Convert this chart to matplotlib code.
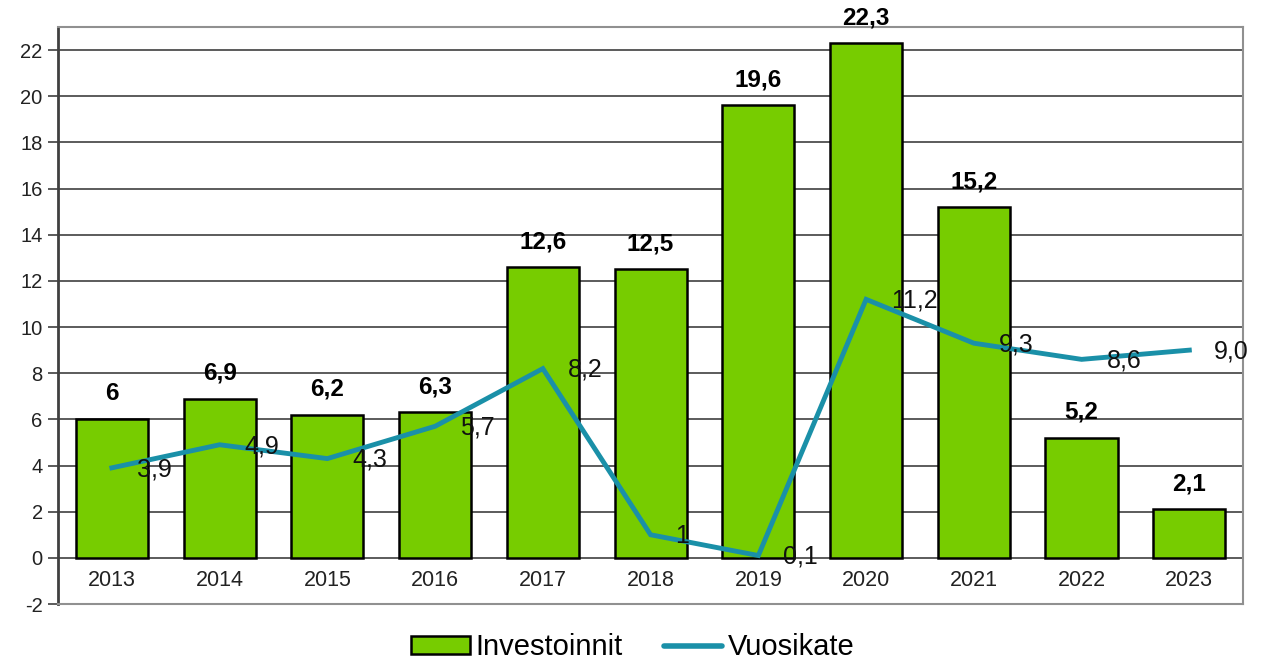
import matplotlib
matplotlib.use("Agg")
from matplotlib import pyplot as plt
from matplotlib.patches import Patch
from matplotlib.lines import Line2D

plt.rcParams['font.family'] = ['Liberation Sans', 'DejaVu Sans']
plt.rcParams['axes.unicode_minus'] = False

years = ['2013', '2014', '2015', '2016', '2017', '2018', '2019', '2020', '2021', '2022', '2023']
investoinnit = [6, 6.9, 6.2, 6.3, 12.6, 12.5, 19.6, 22.3, 15.2, 5.2, 2.1]
investoinnit_labels = ['6', '6,9', '6,2', '6,3', '12,6', '12,5', '19,6', '22,3', '15,2', '5,2', '2,1']
vuosikate = [3.9, 4.9, 4.3, 5.7, 8.2, 1.0, 0.1, 11.2, 9.3, 8.6, 9.0]
vuosikate_labels = ['3,9', '4,9', '4,3', '5,7', '8,2', '1', '0,1', '11,2', '9,3', '8,6', '9,0']

BAR_COLOR = '#77cc00'
LINE_COLOR = '#1a90a8'

fig = plt.figure(figsize=(12.66, 6.62), dpi=100)
ax = fig.add_axes([0.0458, 0.0876, 0.9362, 0.8716])

x = list(range(len(years)))
ax.set_ylim(-2, 23)
ax.set_xlim(-0.5, len(years) - 0.5)
ax.set_yticks(range(-2, 23, 2))
ax.yaxis.grid(True, color='#404040', linewidth=1.2)
ax.set_axisbelow(True)

ax.bar(x, investoinnit, width=0.67, color=BAR_COLOR, edgecolor='black', linewidth=1.8, zorder=2)
for xi, v, lab in zip(x, investoinnit, investoinnit_labels):
    ax.annotate(lab, (xi, v), xytext=(0, 10), textcoords='offset points',
                ha='center', va='bottom', fontsize=17.5, fontweight='bold')

ax.plot(x, vuosikate, color=LINE_COLOR, linewidth=3.5, zorder=3, solid_joinstyle='miter')
for xi, v, lab in zip(x, vuosikate, vuosikate_labels):
    ax.annotate(lab, (xi, v), xytext=(18, -1), textcoords='offset points',
                ha='left', va='center', fontsize=18, color='#111111', zorder=4)

# category labels sit between 0 and -2
ax.set_xticks([])
for xi, lab in zip(x, years):
    ax.text(xi, -1, lab, ha='center', va='center', fontsize=15.5, color='#222222')

ax.tick_params(axis='y', length=7, width=1.2, color='#404040', labelsize=14.5, labelcolor='#222222', pad=4)
ax.spines['left'].set_color('#404040')
ax.spines['left'].set_linewidth(2)
for s in ['top', 'right', 'bottom']:
    ax.spines[s].set_color('#909090')
    ax.spines[s].set_linewidth(1.5)

handles = [Patch(facecolor=BAR_COLOR, edgecolor='black', linewidth=1.8, label='Investoinnit'),
           Line2D([0], [0], color=LINE_COLOR, linewidth=4, solid_capstyle='round', label='Vuosikate')]
fig.legend(handles=handles, loc='center', bbox_to_anchor=(0.5, 0.022), ncol=2, frameon=False,
           fontsize=21, handlelength=2.0, handleheight=0.55, handletextpad=0.2, columnspacing=1.4)

fig.savefig('out.png', dpi=100)
